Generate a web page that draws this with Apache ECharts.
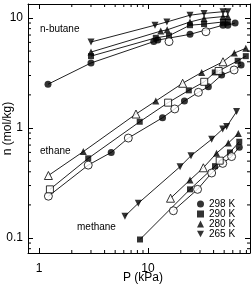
<!DOCTYPE html>
<html>
<head>
<meta charset="utf-8">
<script src="https://cdn.jsdelivr.net/npm/echarts@6/dist/echarts.min.js"></script>
<style>
html, body { margin: 0; padding: 0; background: #fff; }
#isothermChart { width: 251px; height: 290px; }
</style>
</head>
<body>
<div id="isothermChart"></div>
<script>
// axis ranges and ticks
const xMin = 0.793, xMax = 86.3
const yMin = 0.0731, yMax = 13.4
const xMinorTicks = [2, 3, 4, 5, 6, 7, 8, 9, 20, 30, 40, 50, 60, 70, 80]
const yMinorTicks = [0.08, 0.09, 0.2, 0.3, 0.4, 0.5, 0.6, 0.7, 0.8, 0.9, 2, 3, 4, 5, 6, 7, 8, 9]
const legendNames = ['298 K', '290 K', '280 K', '265 K']

// n-butane  [P (kPa), n (mol/kg)]
const butane265 = [[3.0, 6.05], [11.6, 8.6], [14.9, 9.2], [24.3, 10.6], [32.7, 11.0], [48.8, 11.4], [54, 11.4]]
const butane280 = [[3.0, 4.9], [13.1, 7.6], [15, 7.8], [24.3, 9.2], [32.7, 9.9], [48.8, 10.3], [54, 10.3]]
const butane290 = [[3.0, 4.5], [11.8, 6.6], [15.6, 6.9], [24.3, 8.6], [32.7, 8.8], [48.8, 9.2], [54, 9.2]]
const butane298 = [[1.21, 2.5], [3.0, 3.9], [11.3, 6.1], [12.3, 6.3], [24.3, 7.1], [48.8, 8.6], [54, 8.6], [63, 9.0]]
const butane298Open = [[15.6, 6.1], [34, 7.5]]

// ethane
const ethane280 = [[2.55, 0.61], [11.8, 1.76], [31.1, 3.2], [62, 4.8], [79, 5.3]]
const ethane280Open = [[1.22, 0.37], [7.76, 1.34], [20.8, 2.55], [48.8, 4.0]]
const ethane290 = [[2.83, 0.53], [8.4, 1.14], [23.7, 2.2], [41, 3.2], [66.5, 4.08], [79, 4.5]]
const ethane290Open = [[1.26, 0.277], [15.3, 1.7], [32.8, 2.63], [44.5, 3.3]]
const ethane298 = [[4.6, 0.60], [13.6, 1.24], [21.6, 1.76], [35.8, 2.37], [47.4, 3.03], [71.5, 3.74]]
const ethane298Open = [[1.22, 0.24], [2.83, 0.46], [6.6, 0.81], [17.6, 1.49], [29, 2.11], [61.7, 3.37]]

// methane
const methane265 = [[6.15, 0.158], [8.15, 0.207], [19.7, 0.445], [24.8, 0.56], [38.4, 0.79], [48.5, 0.98], [52.7, 1.03], [65, 1.41]]
const methane280 = [[24.3, 0.337], [42.6, 0.59], [54.6, 0.73], [67.4, 0.89]]
const methane280Open = [[16.1, 0.23], [32.2, 0.435]]
const methane290 = [[8.45, 0.097], [24.3, 0.277], [41.2, 0.45], [56.5, 0.60], [68.8, 0.75]]
const methane290Open = [[45.5, 0.505]]
const methane298 = [[68.8, 0.67]]
const methane298Open = [[17.1, 0.177], [28.5, 0.277], [38.4, 0.39], [48.5, 0.477], [58.5, 0.55]]

const fontFamily = '"Liberation Sans", Arial, sans-serif'
const downTriangle = 'path://M0,0 L10,0 L5,9 Z'

const symbols = {
  '298 K': ['circle', 7],
  '290 K': ['rect', 6],
  '280 K': ['triangle', 7],
  '265 K': [downTriangle, 7]
}

function markers(name, data, open) {
  const sym = symbols[name]
  return {
    name: open ? name + ' open' : name,
    type: 'scatter',
    data: data,
    symbol: sym[0],
    symbolSize: open ? sym[1] + 1 : sym[1],
    itemStyle: open
      ? { color: '#fff', borderColor: '#000', borderWidth: 1 }
      : { color: '#000' },
    z: 3,
    silent: true
  }
}

function isotherm(...groups) {
  // one line through all points of a temperature, open and filled
  const pts = [].concat(...groups).sort((a, b) => a[0] - b[0])
  return {
    type: 'line',
    data: pts,
    symbol: 'none',
    lineStyle: { color: '#222', width: 1 },
    z: 2,
    silent: true
  }
}

function minorTicks(axis) {
  const data = axis === 'x'
    ? xMinorTicks.map(v => [v, yMin])
    : yMinorTicks.map(v => [xMin, v])
  return {
    type: 'custom',
    data: data,
    silent: true,
    z: 5,
    renderItem: function(params, api) {
      const style = { stroke: '#000', lineWidth: 1 }
      if (axis === 'x') {
        const b = api.coord([api.value(0), yMin])
        const t = api.coord([api.value(0), yMax])
        return { type: 'group', children: [
          { type: 'line', shape: { x1: b[0], y1: b[1], x2: b[0], y2: b[1] - 3 }, style: style },
          { type: 'line', shape: { x1: t[0], y1: t[1], x2: t[0], y2: t[1] + 3 }, style: style }
        ] }
      }
      const l = api.coord([xMin, api.value(1)])
      const r = api.coord([xMax, api.value(1)])
      return { type: 'group', children: [
        { type: 'line', shape: { x1: l[0], y1: l[1], x2: l[0] + 3, y2: l[1] }, style: style },
        { type: 'line', shape: { x1: r[0], y1: r[1], x2: r[0] - 3, y2: r[1] }, style: style }
      ] }
    }
  }
}

function decadeLabel(value) {
  const l = Math.log10(value)
  return Math.abs(l - Math.round(l)) < 1e-6 ? String(value) : ''
}

const axisLine = { show: true, lineStyle: { color: '#000', width: 1 } }
const axisTick = { show: true, inside: true, length: 5, lineStyle: { color: '#000' } }

const chart = echarts.init(document.getElementById('isothermChart'))
const option = {
  animation: false,
  backgroundColor: '#fff',
  textStyle: { fontFamily: fontFamily },
  grid: { left: 28, right: 1, top: 4, bottom: 37, containLabel: false, outerBoundsMode: 'none' },
  xAxis: [
    {
      type: 'log', logBase: 10, min: xMin, max: xMax,
      name: 'P (kPa)', nameLocation: 'middle', nameGap: 19, nameMoveOverlap: false,
      nameTextStyle: { fontSize: 12, color: '#000', fontFamily: fontFamily, padding: [0, 0, 0, 8] },
      axisLine: axisLine, axisTick: axisTick, splitLine: { show: false },
      axisLabel: { fontSize: 12, color: '#000', margin: 10, formatter: decadeLabel, fontFamily: fontFamily }
    },
    {
      type: 'log', logBase: 10, min: xMin, max: xMax, position: 'top',
      axisLine: axisLine, axisTick: axisTick, splitLine: { show: false },
      axisLabel: { show: false }
    }
  ],
  yAxis: [
    {
      type: 'log', logBase: 10, min: yMin, max: yMax,
      name: 'n (mol/kg)', nameLocation: 'middle', nameGap: 14, nameMoveOverlap: false,
      nameTextStyle: { fontSize: 12, color: '#000', fontFamily: fontFamily },
      axisLine: axisLine, axisTick: axisTick, splitLine: { show: false },
      axisLabel: { fontSize: 12, color: '#000', margin: 5, formatter: decadeLabel, fontFamily: fontFamily }
    },
    {
      type: 'log', logBase: 10, min: yMin, max: yMax, position: 'right',
      axisLine: axisLine, axisTick: axisTick, splitLine: { show: false },
      axisLabel: { show: false }
    }
  ],
  legend: {
    data: legendNames,
    orient: 'vertical',
    left: 197, top: 199,
    padding: 0,
    itemWidth: 7, itemHeight: 7, itemGap: 0,
    selectedMode: false,
    textStyle: { fontSize: 10, lineHeight: 10, color: '#000', fontFamily: fontFamily }
  },
  graphic: [
    { type: 'text', left: 40, top: 24, style: { text: 'n-butane', fontSize: 10, fill: '#000', fontFamily: fontFamily } },
    { type: 'text', left: 40, top: 146, style: { text: 'ethane', fontSize: 10, fill: '#000', fontFamily: fontFamily } },
    { type: 'text', left: 77, top: 222, style: { text: 'methane', fontSize: 10, fill: '#000', fontFamily: fontFamily } }
  ],
  series: [
    isotherm(butane265), isotherm(butane280), isotherm(butane290), isotherm(butane298),
    isotherm(ethane280, ethane280Open), isotherm(ethane290, ethane290Open), isotherm(ethane298, ethane298Open),
    isotherm(methane265), isotherm(methane280, methane280Open), isotherm(methane290, methane290Open),
    isotherm(methane298, methane298Open),

    markers('298 K', butane298), markers('290 K', butane290), markers('280 K', butane280), markers('265 K', butane265),
    markers('298 K', butane298Open, true),
    markers('298 K', ethane298), markers('290 K', ethane290), markers('280 K', ethane280),
    markers('298 K', ethane298Open, true), markers('290 K', ethane290Open, true), markers('280 K', ethane280Open, true),
    markers('298 K', methane298), markers('290 K', methane290), markers('280 K', methane280), markers('265 K', methane265),
    markers('298 K', methane298Open, true), markers('290 K', methane290Open, true), markers('280 K', methane280Open, true),

    minorTicks('x'), minorTicks('y')
  ]
}
chart.setOption(option)
window.addEventListener('resize', function() {
  chart.resize()
})
</script>
</body>
</html>
